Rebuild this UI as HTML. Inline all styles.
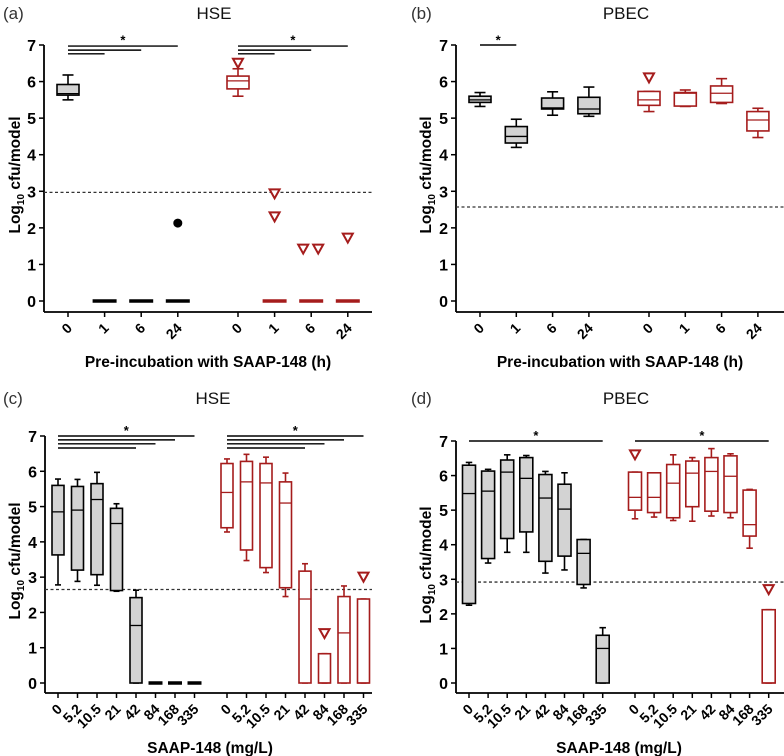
<!DOCTYPE html>
<html><head><meta charset="utf-8"><style>
body{margin:0;background:#fff}
svg{display:block;font-family:"Liberation Sans",sans-serif}
</style></head><body>
<svg id="chart" width="784" height="756" viewBox="0 0 784 756"></svg>
<script>
// ---- data ----
const catsA = ["0","1","6","24"];
const aBlack = [[5.5,5.63,5.67,5.92,6.18],[0,0,0,0,0],[0,0,0,0,0],[0,0,0,0,0]];
const aRed = [[5.6,5.8,6.02,6.15,6.35],[0,0,0,0,0],[0,0,0,0,0],[0,0,0,0,0]];
const aBlackOut = [[3,2.13]];
const aRedOut = [[0,6.5],[1,2.93],[1,2.3],[2,1.42],[2,1.42],[3,1.72]];
const bBlack = [[5.32,5.43,5.5,5.6,5.7],[4.2,4.32,4.5,4.77,4.97],[5.08,5.25,5.28,5.55,5.72],[5.05,5.12,5.25,5.57,5.85]];
const bRed = [[5.18,5.35,5.5,5.73,5.73],[5.32,5.33,5.68,5.7,5.77],[5.4,5.43,5.68,5.88,6.08],[4.47,4.65,4.95,5.18,5.27]];
const bRedOut = [[0,6.1]];
const catsC = ["0","5.2","10.5","21","42","84","168","335"];
const cBlack = [[2.78,3.63,4.85,5.6,5.78],[2.88,3.2,4.9,5.57,5.77],[2.77,3.07,5.2,5.65,5.97],[2.6,2.62,4.52,4.95,5.08],[0,0,1.63,2.42,2.63],[0,0,0,0,0],[0,0,0,0,0],[0,0,0,0,0]];
const cRed = [[4.28,4.4,5.4,6.22,6.35],[3.47,3.77,5.7,6.28,6.48],[3.13,3.27,5.67,6.22,6.4],[2.45,2.7,5.1,5.7,5.95],[0,0,2.38,3.17,3.38],[0,0,0,0.83,0.83],[0,0,1.42,2.45,2.75],[0,0,0,2.38,2.38]];
const cRedOut = [[5,1.4],[7,3.0]];
const dBlack = [[2.25,2.3,5.48,6.3,6.38],[3.47,3.6,5.55,6.13,6.18],[3.78,4.18,6.1,6.45,6.6],[3.78,4.37,5.92,6.52,6.58],[3.18,3.52,5.35,6.03,6.12],[3.27,3.67,5.03,5.75,6.08],[2.75,2.85,3.75,4.15,4.15],[0,0,1.0,1.38,1.6]];
const dRed = [[4.75,5.0,5.37,6.1,6.1],[4.8,4.93,5.37,6.08,6.08],[4.7,4.78,5.78,6.32,6.6],[4.68,5.1,6.07,6.42,6.52],[4.83,4.97,6.12,6.52,6.78],[4.78,4.93,5.98,6.57,6.63],[3.9,4.25,4.58,5.58,5.6],[0,0,0,2.12,2.12]];
const dRedOut = [[0,6.6],[7,2.7]];
const yTicks = [0,1,2,3,4,5,6,7];
const limits = [2.97,2.57,2.65,2.92];
const RED = "#a51c1c";
const svg = document.getElementById('chart');
const NS = "http://www.w3.org/2000/svg";
function mk(tag, attrs, parent){const e=document.createElementNS(NS,tag);for(const k in attrs)e.setAttribute(k,attrs[k]);(parent||svg).appendChild(e);return e;}

const panels = [
 {id:"a",label:"(a)",title:"HSE",ax:44,axEnd:372,y7:45,y0:301,axisY:312,x0:68,dx:36.6,gx:238,cats:catsA,black:aBlack,red:aRed,bOut:aBlackOut,rOut:aRedOut,bw:22,lim:limits[0],sig:[[3,6.97],[2,6.86],[1,6.76]],sigStar:7.18,xt:"Pre-incubation with SAAP-148 (h)",xtx:208,xty:367,ytx:14,yty:175,tx:214,ty:19,lx:3},
 {id:"b",label:"(b)",title:"PBEC",ax:456,axEnd:784,y7:45,y0:301,axisY:312,x0:480,dx:36.3,gx:649,cats:catsA,black:bBlack,red:bRed,bOut:[],rOut:bRedOut,bw:22,lim:limits[1],sig:[[1,7.0]],sigStar:7.18,xt:"Pre-incubation with SAAP-148 (h)",xtx:620,xty:367,ytx:425,yty:175,tx:626,ty:19,lx:411},
 {id:"c",label:"(c)",title:"HSE",ax:45,axEnd:372,y7:436,y0:683,axisY:693,x0:58,dx:19.5,gx:227,cats:catsC,black:cBlack,red:cRed,bOut:[],rOut:cRedOut,bw:12,lim:limits[2],sig:[[7,7.0],[6,6.89],[5,6.78],[4,6.66]],sigStar:7.2,xt:"SAAP-148 (mg/L)",xtx:210,xty:753,ytx:14,yty:561,tx:213,ty:404,lx:3},
 {id:"d",label:"(d)",title:"PBEC",ax:456,axEnd:784,y7:441,y0:683,axisY:693,x0:469,dx:19.1,gx:635,cats:catsC,black:dBlack,red:dRed,bOut:[],rOut:dRedOut,bw:13,lim:limits[3],sig:[[7,7.0]],sigStar:7.2,xt:"SAAP-148 (mg/L)",xtx:619,xty:753,ytx:425,yty:565,tx:626,ty:404,lx:411}
];

panels.forEach(p=>{
 const g = mk('g',{});
 
 
 const Y = v => p.y0 - (p.y0-p.y7)*v/7;
 const X = (grp,i) => (grp===0?p.x0:p.gx) + i*p.dx;
 let t = mk('text',{x:p.lx,y:p.ty,'font-size':17,fill:'#333'},g); t.textContent=p.label;
  
 t = mk('text',{x:p.tx,y:p.ty,'font-size':17,'text-anchor':'middle',fill:'#111'},g); t.textContent=p.title;
  
 const ya = mk('line',{x1:p.ax,x2:p.ax,y1:p.y7,y2:p.axisY,stroke:'#000','stroke-width':1.8},g);
  
 const xa = mk('line',{x1:p.ax,x2:p.axEnd,y1:p.axisY,y2:p.axisY,stroke:'#000','stroke-width':1.8},g);
  
 yTicks.forEach(v=>{
  mk('line',{x1:p.ax-5,x2:p.ax,y1:Y(v),y2:Y(v),stroke:'#000','stroke-width':1.5},g);
  const tt = mk('text',{x:p.ax-8,y:Y(v)+6,'font-size':16,'font-weight':'bold','text-anchor':'end'},g);
  tt.textContent=v;
   
 });
 [0,1].forEach(grp=>{
  p.cats.forEach((c,i)=>{
   const x=X(grp,i);
   mk('line',{x1:x,x2:x,y1:p.axisY,y2:p.axisY+5,stroke:'#000','stroke-width':1.5},g);
   const tx=x+5, ty=p.axisY+17;
   const tt = mk('text',{x:tx,y:ty,'font-size':14,'font-weight':'bold','text-anchor':'end',transform:`rotate(-45 ${tx} ${ty})`},g);
   tt.textContent=c;
    
  });
 });
 const ll = mk('line',{x1:p.ax,x2:p.axEnd,y1:Y(p.lim),y2:Y(p.lim),stroke:'#333','stroke-width':1.3,'stroke-dasharray':'3,2.5'},g);
  
 [[p.black,'#000','#d3d3d3',0],[p.red,RED,'#fff',1]].forEach(([ser,col,fill,grp])=>{
  ser.forEach((d,i)=>{
   const x=X(grp,i), w=p.bw;
   const bg = mk('g',{},g);
   
   
   if(d[4]-d[0]<0.01){
    mk('line',{x1:x-w/2-1,x2:x+w/2+1,y1:Y(d[2]),y2:Y(d[2]),stroke:col,'stroke-width':3.5},bg);
    return;
   }
   mk('line',{x1:x,x2:x,y1:Y(d[0]),y2:Y(d[4]),stroke:col,'stroke-width':1.6},bg);
   mk('line',{x1:x-w/4,x2:x+w/4,y1:Y(d[0]),y2:Y(d[0]),stroke:col,'stroke-width':1.6},bg);
   mk('line',{x1:x-w/4,x2:x+w/4,y1:Y(d[4]),y2:Y(d[4]),stroke:col,'stroke-width':1.6},bg);
   mk('rect',{x:x-w/2,y:Y(d[3]),width:w,height:Math.max(Y(d[1])-Y(d[3]),1),fill:fill,stroke:col,'stroke-width':1.6},bg);
   mk('line',{x1:x-w/2,x2:x+w/2,y1:Y(d[2]),y2:Y(d[2]),stroke:col,'stroke-width':1.3},bg);
  });
 });
 p.bOut.forEach(([i,v])=>{
  const c = mk('circle',{cx:X(0,i),cy:Y(v),r:4.5,fill:'#000'},g);
   
 });
 const seen={};
 p.rOut.forEach(([i,v])=>{
  const key=i+'_'+v; let off=0;
  if(seen[key]!==undefined){off=7;} else {seen[key]=1; if(p.rOut.filter(o=>o[0]===i&&o[1]===v).length>1) off=-8;}
  const x=X(1,i)+off, y=Y(v);
  const tr = mk('path',{d:`M${x-5},${y-4.5} L${x+5},${y-4.5} L${x},${y+4.5} Z`,fill:'#fff',stroke:RED,'stroke-width':2},g);
   
 });
 [0,1].forEach(grp=>{
  if(p.id==='b' && grp===1) return;
  p.sig.forEach(([j,v])=>{
   const s = mk('line',{x1:X(grp,0),x2:X(grp,j),y1:Y(v),y2:Y(v),stroke:'#000','stroke-width':1.4},g);
    
  });
  const far = p.sig[0][0];
  const st = mk('text',{x:(X(grp,0)+X(grp,far))/2,y:Y(p.sigStar)+6,'font-size':13,'font-weight':'bold','text-anchor':'middle'},g);
  st.textContent='*';
   
 });
 t = mk('text',{x:p.xtx,y:p.xty,'font-size':15.5,'font-weight':'bold','text-anchor':'middle'},g);
 t.textContent=p.xt;  
 t = mk('text',{x:p.ytx,y:p.yty,'font-size':15.5,'font-weight':'bold','text-anchor':'middle',transform:`rotate(-90 ${p.ytx} ${p.yty}) translate(0 6)`},g);
 t.innerHTML='Log<tspan font-size="10" dy="4">10</tspan><tspan dy="-4"> cfu/model</tspan>';
  
});
</script>
</body></html>
